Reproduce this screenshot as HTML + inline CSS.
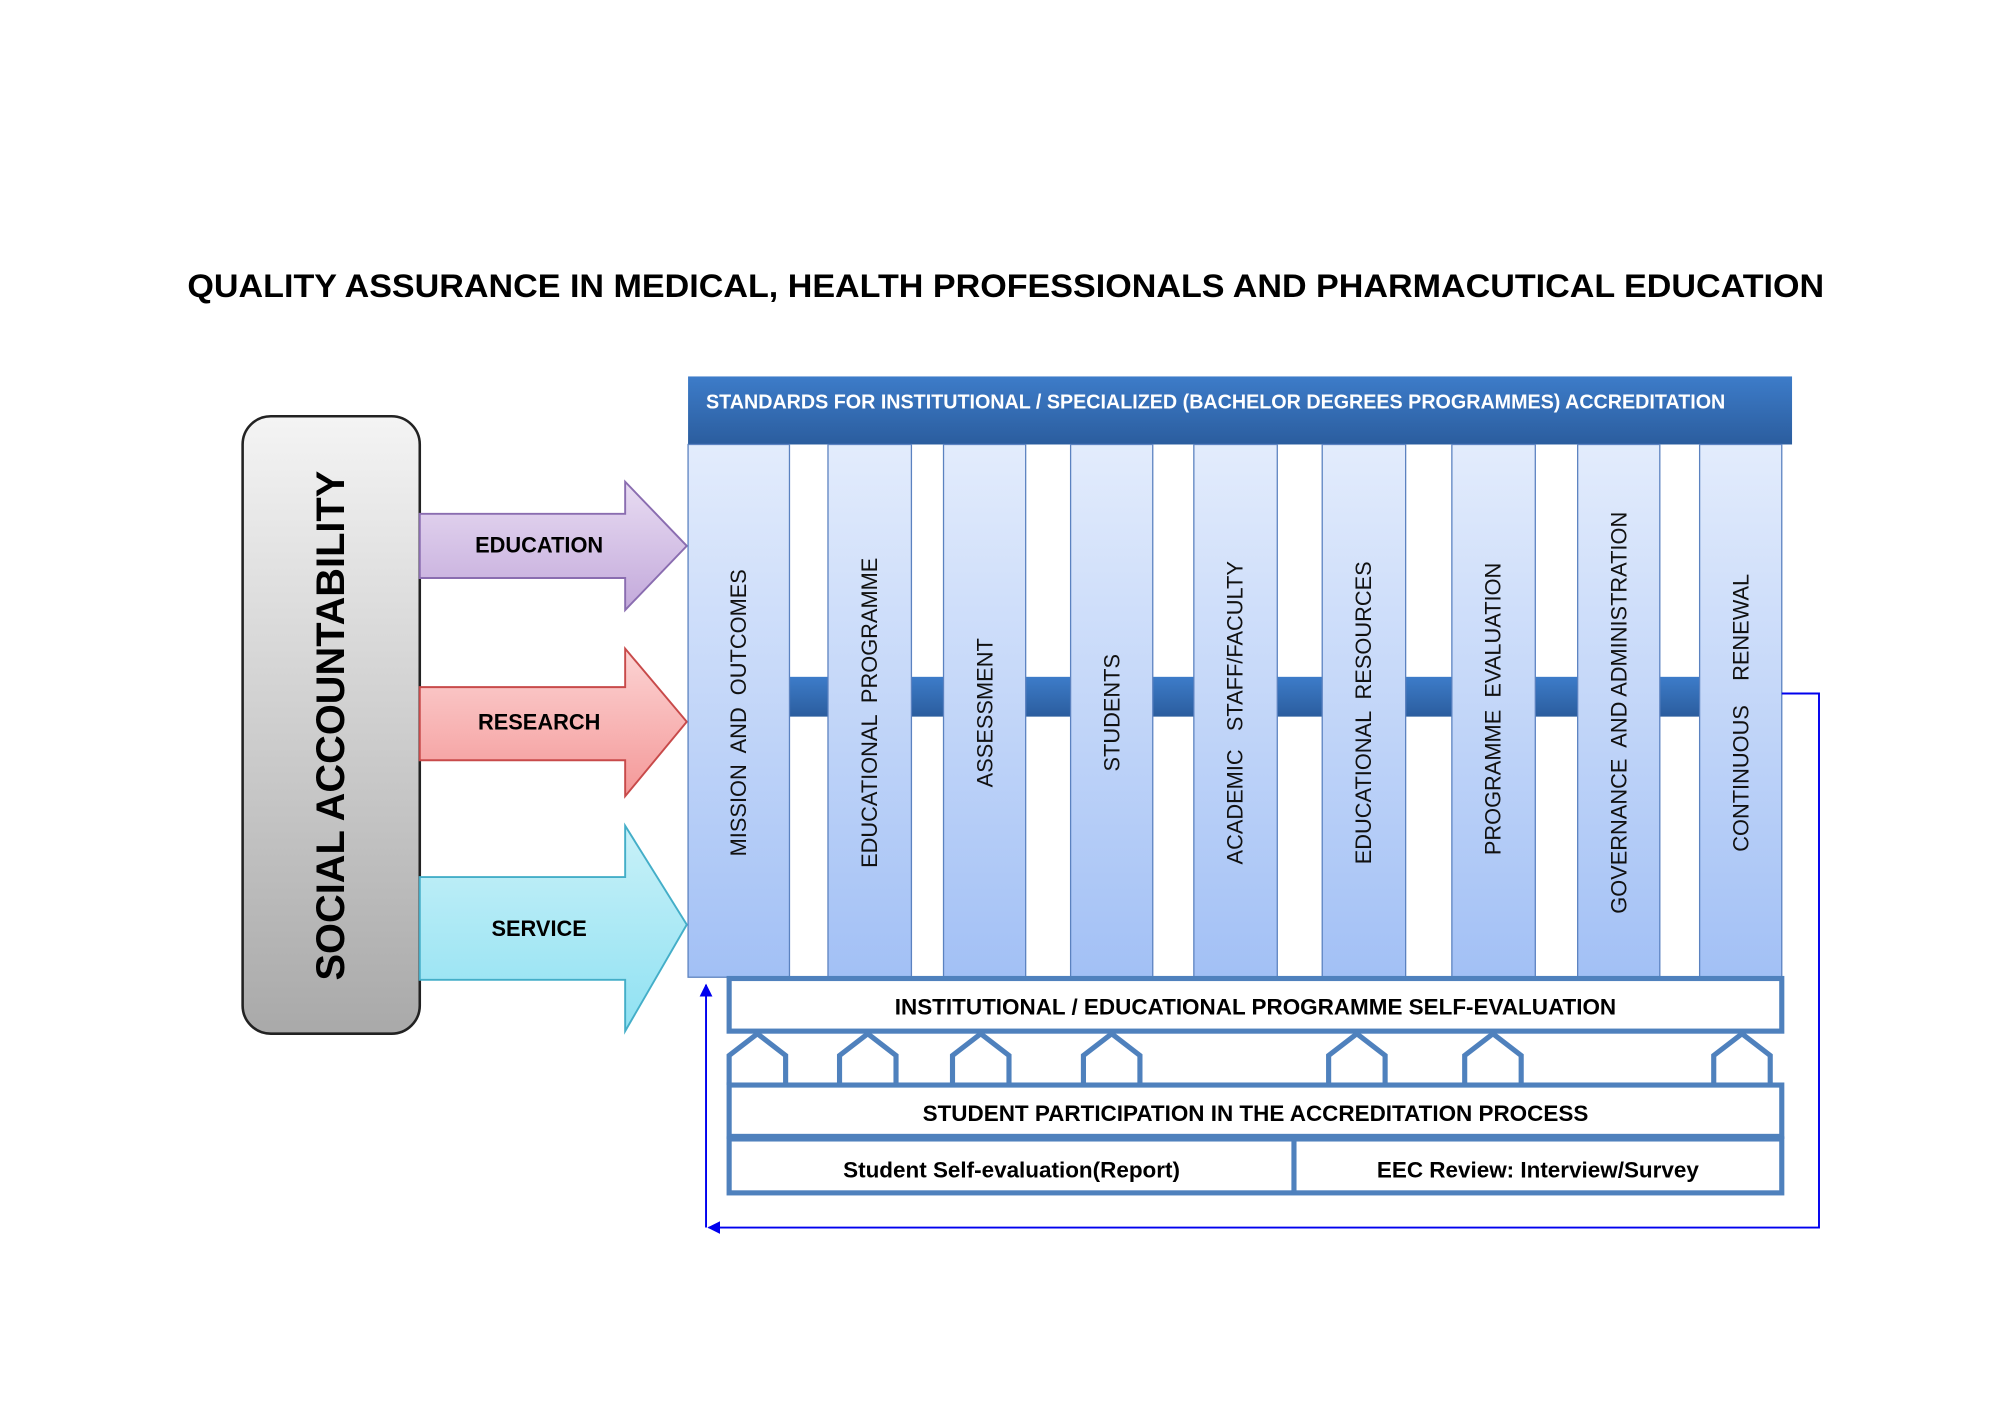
<!DOCTYPE html>
<html><head><meta charset="utf-8"><style>html,body{margin:0;padding:0;background:#fff}svg{display:block}</style></head><body>
<svg width="2000" height="1414" viewBox="0 0 1558 1101" xmlns="http://www.w3.org/2000/svg" font-family="Liberation Sans, sans-serif">
<defs>
<linearGradient id="gray" x1="0" y1="0" x2="0" y2="1"><stop offset="0" stop-color="#f4f4f4"/><stop offset="1" stop-color="#a9a9a9"/></linearGradient>
<linearGradient id="hdr" x1="0" y1="0" x2="0" y2="1"><stop offset="0" stop-color="#3d7cc9"/><stop offset="1" stop-color="#2b5d9e"/></linearGradient>
<linearGradient id="col" x1="0" y1="0" x2="0" y2="1"><stop offset="0" stop-color="#e3ecfc"/><stop offset="1" stop-color="#a2c0f5"/></linearGradient>
<linearGradient id="pur" x1="0" y1="0" x2="0" y2="1"><stop offset="0" stop-color="#e8dcf2"/><stop offset="1" stop-color="#c3a9db"/></linearGradient>
<linearGradient id="red" x1="0" y1="0" x2="0" y2="1"><stop offset="0" stop-color="#fcd4d4"/><stop offset="1" stop-color="#f49898"/></linearGradient>
<linearGradient id="cyan" x1="0" y1="0" x2="0" y2="1"><stop offset="0" stop-color="#c9f1f8"/><stop offset="1" stop-color="#8fe1f2"/></linearGradient>
<marker id="ah" markerWidth="10" markerHeight="10" refX="9" refY="5" orient="auto" markerUnits="userSpaceOnUse"><path d="M0,0 L10,5 L0,10 z" fill="#0000ee"/></marker>
</defs>
<text x="146" y="231" font-size="25" font-weight="bold" textLength="1275" lengthAdjust="spacingAndGlyphs">QUALITY ASSURANCE IN MEDICAL, HEALTH PROFESSIONALS AND PHARMACUTICAL EDUCATION</text>
<rect x="189" y="324" width="138" height="481" rx="22" fill="url(#gray)" stroke="#222" stroke-width="2"/>
<text transform="translate(268,565) rotate(-90)" text-anchor="middle" font-size="31" font-weight="bold">SOCIAL ACCOUNTABILITY</text>
<path d="M327,400 H487 V375 L535,425 L487,475 V450 H327 Z" fill="url(#pur)" stroke="#8a6db0" stroke-width="1.5"/>
<text x="420" y="430" text-anchor="middle" font-size="17" font-weight="bold">EDUCATION</text>
<path d="M327,535 H487 V505 L535,562 L487,620 V592 H327 Z" fill="url(#red)" stroke="#c84a4a" stroke-width="1.5"/>
<text x="420" y="568" text-anchor="middle" font-size="17" font-weight="bold">RESEARCH</text>
<path d="M327,683 H487 V643 L535,720 L487,803 V763 H327 Z" fill="url(#cyan)" stroke="#44aec8" stroke-width="1.5"/>
<text x="420" y="729" text-anchor="middle" font-size="17" font-weight="bold">SERVICE</text>
<rect x="536" y="293" width="860" height="53" fill="url(#hdr)"/>
<text x="550" y="318" font-size="15.5" font-weight="bold" fill="#fff" textLength="794" lengthAdjust="spacingAndGlyphs">STANDARDS FOR INSTITUTIONAL / SPECIALIZED (BACHELOR DEGREES PROGRAMMES) ACCREDITATION</text>
<rect x="615" y="527" width="710" height="31" fill="url(#hdr)"/>
<g fill="url(#col)" stroke="#5b82c0" stroke-width="1">
<rect x="536" y="346" width="79" height="415"/>
<rect x="645" y="346" width="65" height="415"/>
<rect x="735" y="346" width="64" height="415"/>
<rect x="834" y="346" width="64" height="415"/>
<rect x="930" y="346" width="65" height="415"/>
<rect x="1030" y="346" width="65" height="415"/>
<rect x="1131" y="346" width="65" height="415"/>
<rect x="1229" y="346" width="64" height="415"/>
<rect x="1324" y="346" width="64" height="415"/>
</g>
<g font-size="17" text-anchor="middle" fill="#111">
<text transform="translate(581,555) rotate(-90)" xml:space="preserve">MISSION  AND  OUTCOMES</text>
<text transform="translate(683,555) rotate(-90)" xml:space="preserve">EDUCATIONAL  PROGRAMME</text>
<text transform="translate(773,555) rotate(-90)">ASSESSMENT</text>
<text transform="translate(872,555) rotate(-90)">STUDENTS</text>
<text transform="translate(968,555) rotate(-90)" xml:space="preserve">ACADEMIC   STAFF/FACULTY</text>
<text transform="translate(1068,555) rotate(-90)" xml:space="preserve">EDUCATIONAL  RESOURCES</text>
<text transform="translate(1169,552) rotate(-90)" xml:space="preserve">PROGRAMME  EVALUATION</text>
<text transform="translate(1267,555) rotate(-90)" xml:space="preserve">GOVERNANCE  AND ADMINISTRATION</text>
<text transform="translate(1362,555) rotate(-90)" xml:space="preserve">CONTINUOUS    RENEWAL</text>
</g>
<g fill="#fff" stroke="#4f81bd" stroke-width="4">
<rect x="568" y="762" width="820" height="41"/>
<path d="M568,845 V822 L590,805 L612,822 V845 M654,845 V822 L676,805 L698,822 V845 M742,845 V822 L764,805 L786,822 V845 M844,845 V822 L866,805 L888,822 V845 M1035,845 V822 L1057,805 L1079,822 V845 M1141,845 V822 L1163,805 L1185,822 V845 M1335,845 V822 L1357,805 L1379,822 V845"/>
<rect x="568" y="845" width="820" height="40"/>
<rect x="568" y="887" width="820" height="42"/>
<line x1="1008" y1="887" x2="1008" y2="929"/>
</g>
<g font-size="17.5" font-weight="bold" text-anchor="middle">
<text x="978" y="790">INSTITUTIONAL / EDUCATIONAL PROGRAMME SELF-EVALUATION</text>
<text x="978" y="873">STUDENT PARTICIPATION IN THE ACCREDITATION PROCESS</text>
<text x="788" y="917">Student Self-evaluation(Report)</text>
<text x="1198" y="917">EEC Review: Interview/Survey</text>
</g>
<path d="M1388,540 H1417 V956 H552" fill="none" stroke="#0000ee" stroke-width="1.5" marker-end="url(#ah)"/>
<path d="M550,956 V767" fill="none" stroke="#0000ee" stroke-width="1.5" marker-end="url(#ah)"/>
</svg>
</body></html>
